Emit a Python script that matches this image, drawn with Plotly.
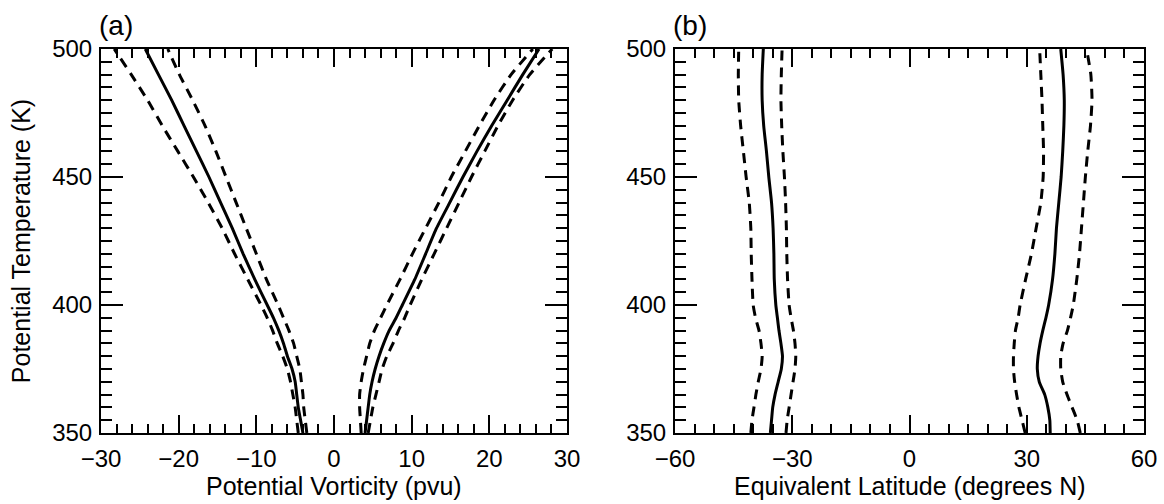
import plotly.graph_objects as go

theta = [350, 355, 360, 365, 370, 375, 380, 385, 390, 395, 400,
         410, 420, 430, 440, 450, 460, 470, 480, 490, 500]

# Panel (a): potential vorticity (pvu)
pv_nh_mean = [4.0, 4.2, 4.4, 4.6, 4.9, 5.3, 5.8, 6.4, 7.1, 8.0, 8.8,
              10.4, 11.8, 13.2, 14.9, 16.6, 18.4, 20.3, 22.3, 24.3, 26.4]
pv_nh_lo = [3.5, 3.4, 3.3, 3.3, 3.5, 3.8, 4.2, 4.6, 5.2, 6.0, 6.8,
            8.5, 10.1, 11.8, 13.5, 15.1, 16.9, 18.7, 20.6, 22.8, 25.6]
pv_nh_hi = [4.4, 4.7, 5.0, 5.4, 5.8, 6.2, 6.8, 7.6, 8.3, 9.1, 9.8,
            11.3, 12.9, 14.5, 16.1, 17.7, 19.4, 21.1, 23.0, 25.2, 28.1]
pv_sh_mean = [-4.0, -4.3, -4.6, -4.8, -5.0, -5.4, -6.0, -6.5, -7.1, -7.8, -8.6,
              -10.2, -11.7, -13.1, -14.6, -16.1, -17.7, -19.3, -20.9, -22.6, -24.3]
pv_sh_lo = [-3.5, -3.7, -3.9, -4.0, -4.2, -4.4, -4.8, -5.2, -5.8, -6.5, -7.2,
            -8.7, -10.0, -11.3, -12.6, -13.9, -15.2, -16.6, -18.2, -19.9, -21.4]
pv_sh_hi = [-4.6, -4.8, -5.0, -5.3, -5.6, -6.0, -6.6, -7.3, -7.9, -8.6, -9.4,
            -11.1, -12.8, -14.4, -16.2, -18.1, -20.1, -22.1, -24.0, -26.1, -28.3]

# Panel (b): equivalent latitude (degrees N)
eq_sh_mean = [-35.6, -35.3, -35.0, -34.4, -33.6, -32.8, -32.5, -32.9, -33.4, -33.8, -34.2,
              -34.6, -34.7, -34.9, -35.3, -36.0, -36.6, -37.3, -37.7, -37.7, -37.4]
eq_sh_out = [-40.6, -40.3, -39.8, -39.3, -38.7, -38.0, -37.7, -38.0, -38.5, -39.4, -40.0,
             -40.3, -40.5, -40.6, -41.0, -41.8, -42.5, -43.2, -43.7, -43.8, -43.7]
eq_sh_in = [-31.6, -31.3, -30.8, -30.3, -29.8, -29.3, -29.1, -29.3, -29.7, -30.3, -30.8,
            -31.2, -31.4, -31.5, -31.7, -32.0, -32.4, -32.7, -32.9, -32.8, -32.6]
eq_nh_mean = [36.0, 35.9, 35.4, 34.6, 33.2, 32.7, 32.9, 33.4, 34.1, 34.9, 35.6,
              36.6, 37.2, 37.6, 38.2, 38.8, 39.2, 39.5, 39.6, 39.3, 38.7]
eq_nh_in = [29.6, 28.8, 28.0, 27.4, 26.9, 26.6, 26.6, 26.8, 27.1, 27.8, 28.3,
            29.7, 31.2, 32.4, 33.6, 34.2, 34.3, 34.1, 33.9, 33.6, 33.3]
eq_nh_out = [43.7, 42.9, 41.6, 40.3, 39.2, 38.7, 38.7, 39.3, 40.4, 41.2, 41.9,
             42.8, 43.5, 44.0, 44.5, 45.0, 45.6, 46.3, 46.7, 46.4, 45.3]

x_title_a = "Potential Vorticity (pvu)"
x_title_b = "Equivalent Latitude (degrees N)"
y_title = "Potential Temperature (K)"

FONT = "Liberation Sans, Arial, Helvetica, sans-serif"
W, H = 1164, 504
TICK_SIZE = 24
TITLE_SIZE = 25

fig = go.Figure()

def add(xs, dash, xa, ya):
    fig.add_trace(go.Scatter(
        x=xs, y=theta, mode="lines", xaxis=xa, yaxis=ya,
        line=dict(color="black", width=3, dash=dash, shape="spline", smoothing=0.5),
        showlegend=False, hoverinfo="skip"))

DASH = "10px,7px"
for s in (pv_nh_mean, pv_sh_mean):
    add(s, "solid", "x", "y")
for s in (pv_nh_lo, pv_nh_hi, pv_sh_lo, pv_sh_hi):
    add(s, DASH, "x", "y")
for s in (eq_sh_mean, eq_nh_mean):
    add(s, "solid", "x2", "y2")
for s in (eq_sh_out, eq_sh_in, eq_nh_in, eq_nh_out):
    add(s, DASH, "x2", "y2")

def xax(dom, rng, dt, mdt, anchor):
    return dict(domain=dom, range=rng, dtick=dt, tick0=0, anchor=anchor,
                automargin=False,
                showgrid=False, zeroline=False, showline=True, linecolor="black",
                linewidth=2, mirror="ticks", ticks="inside", ticklen=18,
                tickwidth=2, tickcolor="black",
                minor=dict(dtick=mdt, ticks="inside", ticklen=9, tickwidth=2,
                           tickcolor="black", showgrid=False),
                tickfont=dict(family=FONT, size=TICK_SIZE, color="black"),
                ticklabelstandoff=3)

def yax(anchor, title):
    d = dict(domain=[0, 1], range=[350, 500], dtick=50, tick0=0, anchor=anchor,
             automargin=False,
             showgrid=False, zeroline=False, showline=True, linecolor="black",
             linewidth=2, mirror="ticks", ticks="inside", ticklen=22,
             tickwidth=2, tickcolor="black",
             minor=dict(dtick=5, ticks="inside", ticklen=11, tickwidth=2,
                        tickcolor="black", showgrid=False),
             tickfont=dict(family=FONT, size=TICK_SIZE, color="black"),
             ticklabelstandoff=2)
    if title:
        d["title"] = dict(text=title, font=dict(family=FONT, size=TITLE_SIZE, color="black"),
                          standoff=14)
    return d

xa_dom = [101 / W, 567 / W]
xb_dom = [675 / W, 1144 / W]
PLOT_TOP, PLOT_BOT = 49, 433

def yfrac(py):
    return (PLOT_BOT - py) / (PLOT_BOT - PLOT_TOP)

title_font = dict(family=FONT, size=TITLE_SIZE, color="black")
panel_font = dict(family=FONT, size=28, color="black")

fig.update_layout(
    width=W, height=H,
    template="none",
    margin=dict(l=0, r=0, t=PLOT_TOP, b=H - PLOT_BOT, autoexpand=False),
    paper_bgcolor="white", plot_bgcolor="white",
    xaxis=xax(xa_dom, [-30, 30], 10, 2, "y"),
    yaxis=yax("x", y_title),
    xaxis2=xax(xb_dom, [-60, 60], 30, 5, "y2"),
    yaxis2=yax("x2", None),
    annotations=[
        dict(text=x_title_a, x=sum(xa_dom) / 2, y=yfrac(486), xref="paper", yref="paper",
             xanchor="center", yanchor="middle", showarrow=False, font=title_font),
        dict(text=x_title_b, x=sum(xb_dom) / 2, y=yfrac(486), xref="paper", yref="paper",
             xanchor="center", yanchor="middle", showarrow=False, font=title_font),
        dict(text="(a)", x=xa_dom[0], y=yfrac(25), xref="paper", yref="paper",
             xanchor="left", yanchor="middle", xshift=-4, showarrow=False, font=panel_font),
        dict(text="(b)", x=xb_dom[0], y=yfrac(25), xref="paper", yref="paper",
             xanchor="left", yanchor="middle", xshift=-4, showarrow=False, font=panel_font),
    ],
)

fig.write_html("out.html")
